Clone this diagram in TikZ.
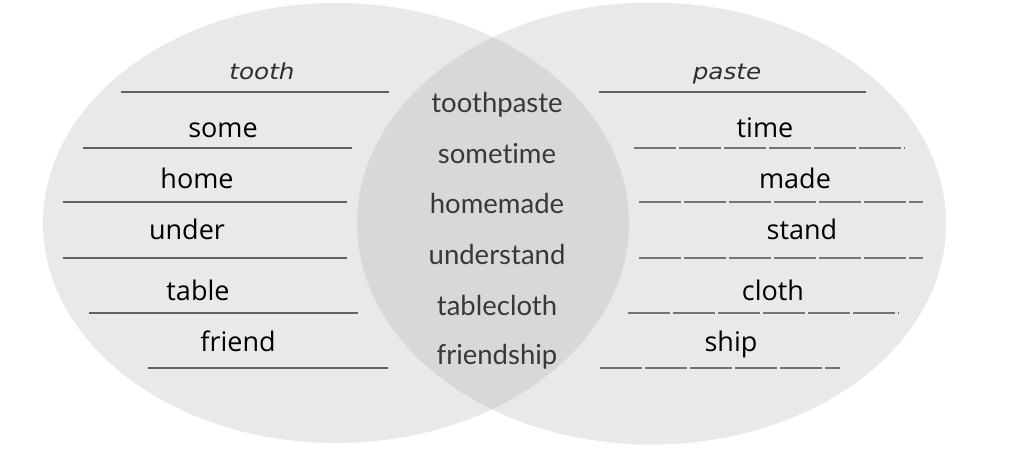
\documentclass[tikz,border=0pt]{standalone}
\usepackage{fontspec}
\newfontfamily\wordfont{Open Sans}
\newfontfamily\midfont[Ligatures=NoCommon]{Lato}
\newfontfamily\handfont{DejaVu Sans}
\begin{document}
\begin{tikzpicture}[x=1pt,y=-1pt,
  word/.style={anchor=base,inner sep=0pt,font=\wordfont\fontsize{27}{30}\selectfont,text=black},
  midword/.style={anchor=base,inner sep=0pt,font=\midfont\fontsize{27.5}{30}\selectfont,text=midtext},
  handword/.style={anchor=base,inner sep=0pt,xscale=1.12,font=\handfont\itshape\fontsize{22}{26}\selectfont,text=handtext},
  solidline/.style={draw=linegray,line width=2pt},
  dashline/.style={draw=dashgray,line width=2pt,dash pattern=on 42pt off 3pt}]
\definecolor{vennlight}{HTML}{E9E9EA}
\definecolor{venndark}{HTML}{D8D8D8}
\definecolor{midtext}{HTML}{383838}
\definecolor{handtext}{HTML}{2E2E2E}
\definecolor{linegray}{HTML}{626262}
\definecolor{dashgray}{HTML}{747474}
\useasboundingbox (0,0) rectangle (1024,452);
\fill[white] (0,0) rectangle (1024,452);
% circles
\fill[vennlight] (336,223) ellipse [x radius=293pt, y radius=220pt];
\fill[vennlight] (651.5,223.5) ellipse [x radius=294.5pt, y radius=221pt];
\begin{scope}
  \clip (336,223) ellipse [x radius=293pt, y radius=220pt];
  \fill[venndark] (651.5,223.5) ellipse [x radius=294.5pt, y radius=221pt];
\end{scope}
% left lines
\coordinate (l1a) at (121,92);  \coordinate (l1b) at (389,92);
\coordinate (l2a) at (83,148);  \coordinate (l2b) at (352,148);
\coordinate (l3a) at (63,202);  \coordinate (l3b) at (347,202);
\coordinate (l4a) at (63,258);  \coordinate (l4b) at (347,258);
\coordinate (l5a) at (89,313);  \coordinate (l5b) at (358,313);
\coordinate (l6a) at (148,368); \coordinate (l6b) at (388,368);
\foreach \i in {1,...,6} {\draw[solidline] (l\i a) -- (l\i b);}
% right lines
\coordinate (r1a) at (599,92);  \coordinate (r1b) at (866,92);
\coordinate (r2a) at (634,148); \coordinate (r2b) at (905,148);
\coordinate (r3a) at (639,202); \coordinate (r3b) at (923,202);
\coordinate (r4a) at (639,258); \coordinate (r4b) at (923,258);
\coordinate (r5a) at (628,313); \coordinate (r5b) at (899,313);
\coordinate (r6a) at (600,368); \coordinate (r6b) at (840,368);
\draw[solidline] (r1a) -- (r1b);
\foreach \i in {2,...,6} {\draw[dashline] (r\i a) -- (r\i b);}
% left words
\node[handword] (tooth) at (262,79) {tooth};
\node[word] (some) at (223,137) {some};
\node[word] (home) at (197,188) {home};
\node[word] (under) at (187,239) {under};
\node[word] (table) at (198,300) {table};
\node[word] (friend) at (238,351) {friend};
% middle words
\node[midword] (toothpaste) at (497,112) {toothpaste};
\node[midword] (sometime) at (497,163) {sometime};
\node[midword] (homemade) at (497,213) {homemade};
\node[midword] (understand) at (497,264) {understand};
\node[midword] (tablecloth) at (497,315) {tablecloth};
\node[midword] (friendship) at (497,364) {friendship};
% right words
\node[handword] (paste) at (727,79) {paste};
\node[word] (time) at (765,137) {time};
\node[word] (made) at (795,188) {made};
\node[word] (stand) at (802,239) {stand};
\node[word] (cloth) at (773,300) {cloth};
\node[word] (ship) at (731,351) {ship};
\end{tikzpicture}
\end{document}
